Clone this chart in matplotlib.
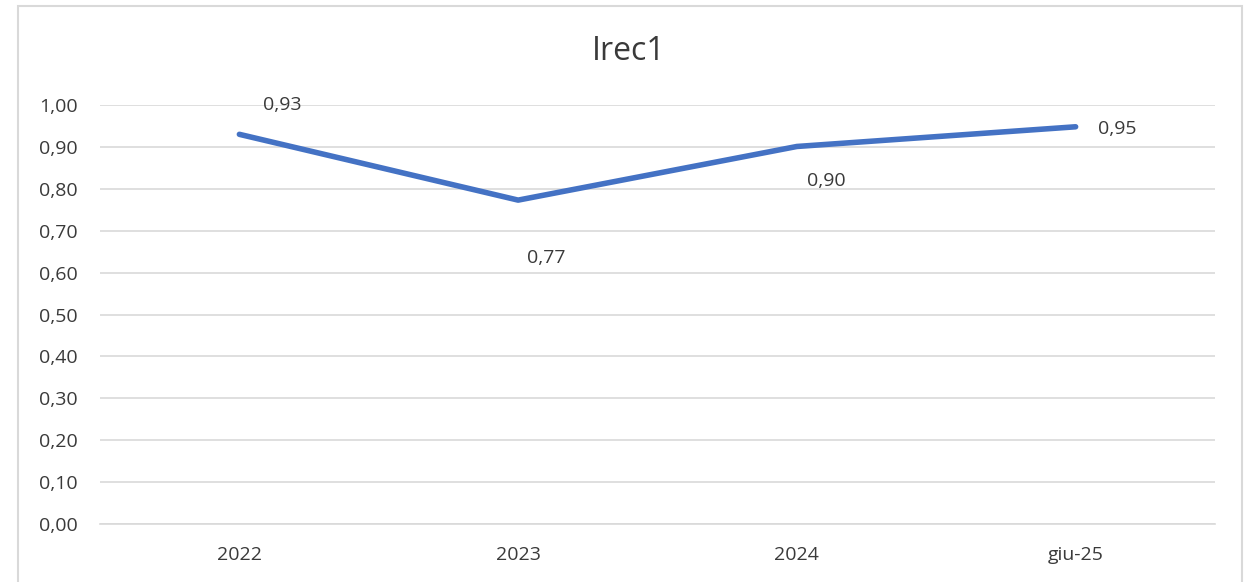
import matplotlib.pyplot as plt
from matplotlib.patches import Rectangle

# data
categories = ['2022', '2023', '2024', 'giu-25']
values = [0.93, 0.773, 0.901, 0.948]
labels = ['0,93', '0,77', '0,90', '0,95']
# label offsets in points (dx, dy) relative to each point
label_offsets = [(31, 21), (20, -42), (21.5, -25), (30, -1.8)]
yticks = [i / 10 for i in range(11)]

plt.rcParams['font.family'] = ['Open Sans', 'DejaVu Sans']

fig = plt.figure(figsize=(12.45, 5.82), dpi=100)
ax = fig.add_axes([100 / 1245, 58 / 582, 1115 / 1245, 419 / 582])

# outer chart border
fig.patches.append(Rectangle((18 / 1245, -0.02), 1224 / 1245, 1 - 6 / 582 + 0.02,
                             transform=fig.transFigure, fill=False,
                             edgecolor='#d9d9d9', linewidth=1.5))

x = list(range(len(categories)))
ax.plot(x, values, color='#4472c4', linewidth=4, solid_capstyle='round', zorder=3)

for xi, v, lab, (dx, dy) in zip(x, values, labels, label_offsets):
    ax.annotate(lab, (xi, v), xytext=(dx, dy), textcoords='offset points',
                ha='center', va='center', fontsize=14, color='#3a3a3a')

ax.set_xlim(-0.5, 3.5)
ax.set_ylim(0, 1.0)
ax.set_yticks(yticks)
ax.set_yticklabels([f'{t:.2f}'.replace('.', ',') for t in yticks])
ax.set_xticks(x)
ax.set_xticklabels(categories)
ax.grid(axis='y', color='#d9d9d9', linewidth=1.2)
ax.set_axisbelow(True)
for s in ['top', 'right', 'left']:
    ax.spines[s].set_visible(False)
ax.spines['bottom'].set_color('#d9d9d9')
ax.spines['bottom'].set_linewidth(1.2)
ax.tick_params(length=0, labelsize=14, labelcolor='#3a3a3a')
ax.tick_params(axis='y', pad=16)
ax.tick_params(axis='x', pad=16)

fig.text(629 / 1245, 1 - 52 / 582, 'Irec1', ha='center', va='center',
         fontsize=23, color='#3a3a3a')

fig.savefig('out.png', dpi=100)
